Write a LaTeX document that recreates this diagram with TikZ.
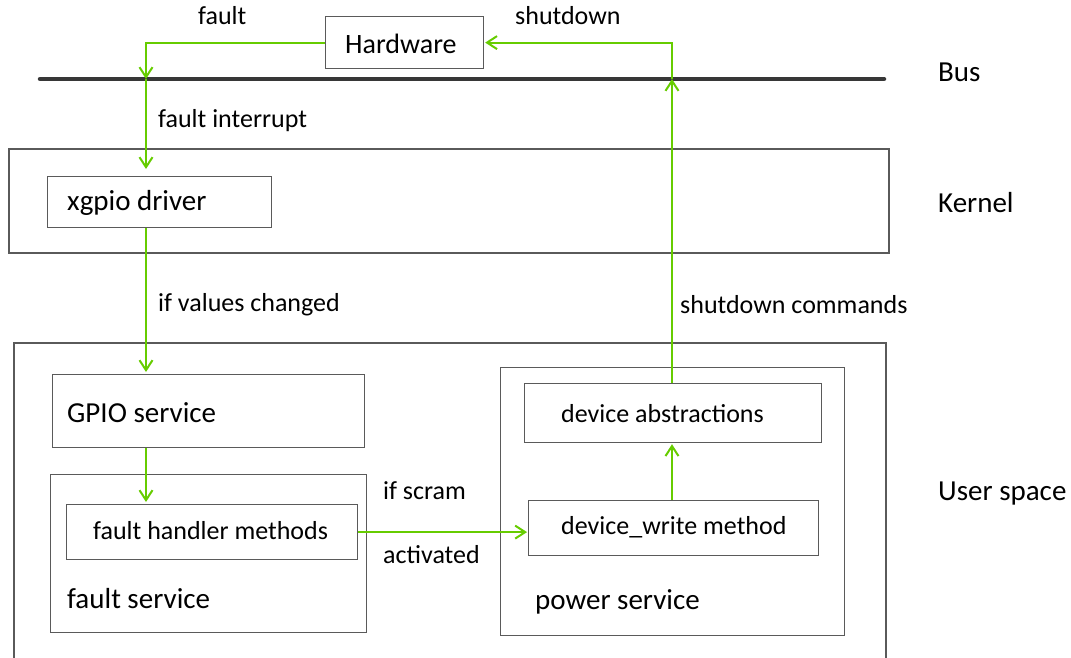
\documentclass[tikz,border=0pt]{standalone}
\usepackage{fontspec}
\setmainfont{Carlito}
\usetikzlibrary{arrows.meta}
\definecolor{flowgreen}{RGB}{102,204,0}
\definecolor{boxgray}{RGB}{90,90,90}
\definecolor{busgray}{RGB}{55,55,55}
\tikzset{
  box/.style={draw=boxgray, line width=1.2pt, anchor=north west, inner sep=0pt},
  txt/.style={anchor=west, inner sep=0pt, font=\fontsize{29}{33}\selectfont},
  stxt/.style={anchor=west, inner sep=0pt, font=\fontsize{26}{30}\selectfont},
  lbl/.style={anchor=west, inner sep=0pt, font=\fontsize{26}{30}\selectfont},
  flow/.style={draw=flowgreen, line width=2pt, -{Straight Barb[length=10pt,width=13pt,line width=2pt]}},
  frame/.style={draw=boxgray, line width=1.2pt}
}
\begin{document}
\begin{tikzpicture}[x=1pt,y=-1pt]
\useasboundingbox (0,0) rectangle (1071,657);
% Bus
\draw[busgray, line width=4.5pt, line cap=round] (40,79) -- (884,79);
% containers
\draw[frame] (9,149) rectangle (889,253);
\draw[frame] (14,662) -- (14,343) -- (886,343) -- (886,662);
% boxes
\node[box, minimum width=158pt, minimum height=52pt] (hw) at (325,16) {};
\node[box, minimum width=224pt, minimum height=51pt] (xg) at (47,176) {};
\node[box, minimum width=312pt, minimum height=73pt] (gpio) at (52,374) {};
\node[box, minimum width=316pt, minimum height=158pt] (fs) at (50,474) {};
\node[box, minimum width=291pt, minimum height=55pt] (fh) at (66,504) {};
\node[box, minimum width=344pt, minimum height=268pt] (ps) at (500,367) {};
\node[box, minimum width=297pt, minimum height=59pt] (da) at (524,383) {};
\node[box, minimum width=290pt, minimum height=55pt] (dw) at (528,500) {};
% box texts
\node[txt, font=\fontsize{28}{32}\selectfont] (hwt) at (345,44) {Hardware};
\node[txt] (xgt) at (67,203) {xgpio driver};
\node[txt] (gpiot) at (67,413) {GPIO service};
\node[stxt] (fht) at (93,531) {fault handler methods};
\node[txt] (fst) at (67,599) {fault service};
\node[stxt] (dat) at (561,414) {device abstractions};
\node[stxt] (dwt) at (561,527) {device\_write method};
\node[txt] (pst) at (535,602) {power service};
% side labels
\node[txt] (bus) at (938,72) {Bus};
\node[txt] (kern) at (938,203) {Kernel};
\node[txt] (us) at (938,494) {User space};
% edge labels
\node[lbl] (lf) at (198,16) {fault};
\node[lbl] (ls) at (515,16) {shutdown};
\node[lbl] (lfi) at (158,121) {fault interrupt};
\node[lbl] (liv) at (158,305) {if values changed};
\node[lbl] (lsc) at (680,305) {shutdown commands};
\node[lbl] (lis) at (383,491) {if scram};
\node[lbl] (lac) at (383,555) {activated};
% coordinates on bus
\coordinate (busL) at (146,79);
\coordinate (busR) at (672,79);
% flows
\draw[flow] (hw.west) -| (busL);
\draw[flow, shorten >=7pt] (busL) -- (busL |- xg.north);
\draw[flow, shorten >=2pt] (busL |- xg.south) -- (busL |- gpio.north);
\draw[flow, shorten >=2pt] (busL |- gpio.south) -- (busL |- fh.north);
\draw[flow, shorten >=1pt] (fh.east) -- (fh.east -| dw.west);
\draw[flow, shorten >=1pt] (busR |- dw.north) -- (busR |- da.south);
\draw[flow] (busR |- da.north) -- (busR);
\draw[flow, shorten >=1pt] (busR) |- (hw.east);
\end{tikzpicture}
\end{document}
